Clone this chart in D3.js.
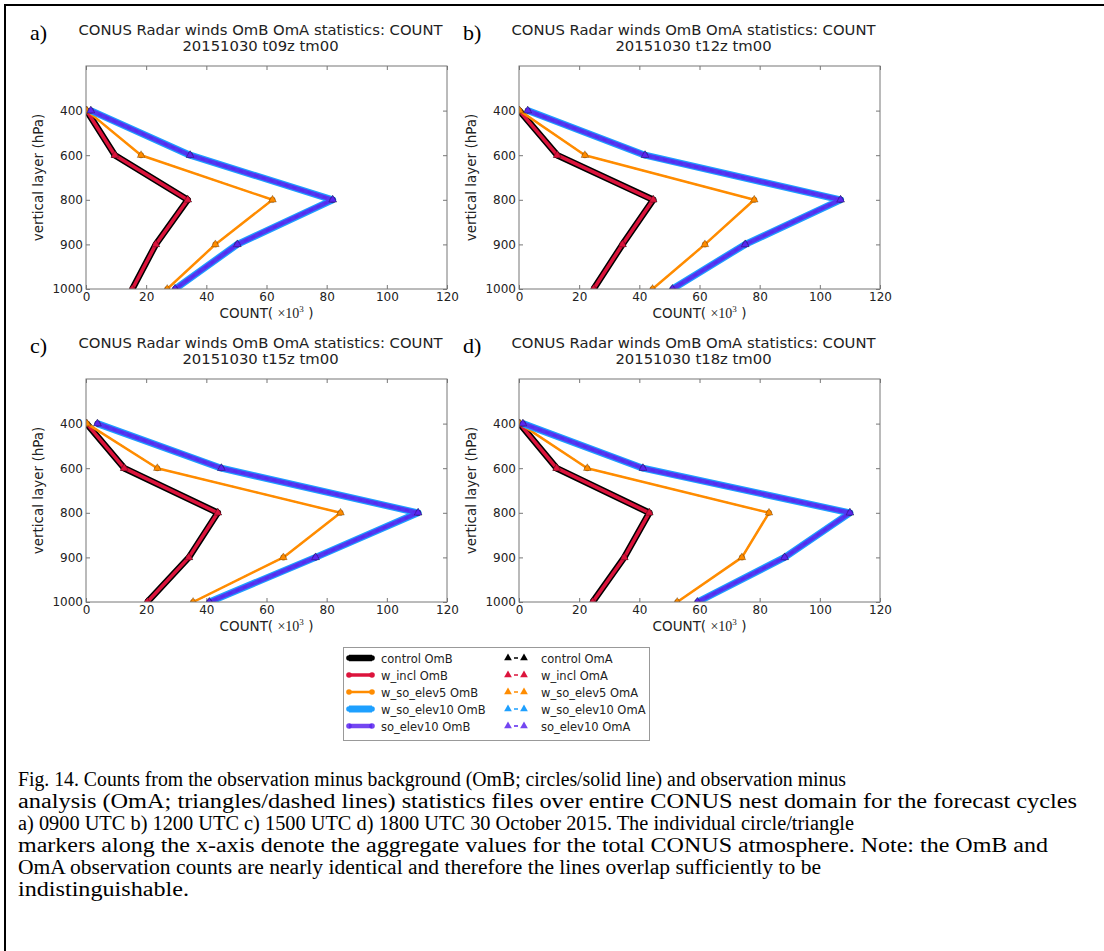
<!DOCTYPE html>
<html lang="en">
<head>
<meta charset="utf-8">
<title>Fig. 14 CONUS Radar winds COUNT</title>
<script src="https://d3js.org/d3.v7.min.js"></script>
<style>
  body { margin: 0; background: #fff; }
  svg { display: block; }
  .axis text { font-family: "DejaVu Sans", sans-serif; font-size: 12px; fill: #222; }
  .axis line { stroke: #777; }
  .axis path { display: none; }
</style>
</head>
<body>
<script>
// vertical layers, plotted at equal spacing (index), top slot left empty
var levels = [400, 600, 800, 900, 1000];
var xTicks = [0, 20, 40, 60, 80, 100, 120];
var panelLabels = ["a)", "b)", "c)", "d)"];
var cycles = ["20151030 t09z tm00", "20151030 t12z tm00", "20151030 t15z tm00", "20151030 t18z tm00"];
var expNames = ["control", "w_incl", "w_so_elev5", "w_so_elev10", "so_elev10"];

// counts (x10^3), one row per panel, values at 400/600/800/900/1000 hPa
var controlOmB   = [[0.2, 9.6, 33.8, 23.2, 15.4], [0.1, 12.7, 44.6, 34.4, 24.8], [0.2, 12.7, 43.8, 34.2, 20.4], [0.2, 12.5, 43.3, 35.0, 24.5]];
var wInclOmB     = [[0.2, 9.6, 33.8, 23.2, 15.4], [0.1, 12.7, 44.6, 34.4, 24.8], [0.2, 12.7, 43.8, 34.2, 20.4], [0.2, 12.5, 43.3, 35.0, 24.5]];
var wElev5OmB    = [[0.3, 18.3, 62.0, 43.0, 27.0], [0.2, 21.9, 78.2, 61.8, 44.4], [0.3, 23.7, 84.6, 65.6, 35.6], [0.3, 22.7, 83.1, 74.1, 52.6]];
var wElev10OmB   = [[1.6, 34.6, 82.0, 50.3, 29.6], [2.9, 41.9, 106.9, 75.2, 51.0], [3.8, 45.0, 110.4, 76.3, 41.0], [1.3, 41.2, 110.0, 88.3, 59.3]];
var soElev10OmB  = [[1.6, 34.6, 82.0, 50.3, 29.6], [2.9, 41.9, 106.9, 75.2, 51.0], [3.8, 45.0, 110.4, 76.3, 41.0], [1.3, 41.2, 110.0, 88.3, 59.3]];
// OmA counts are nearly identical to OmB
var controlOmA   = [[0.2, 9.6, 33.8, 23.2, 15.4], [0.1, 12.7, 44.6, 34.4, 24.8], [0.2, 12.7, 43.8, 34.2, 20.4], [0.2, 12.5, 43.3, 35.0, 24.5]];
var wInclOmA     = [[0.2, 9.6, 33.8, 23.2, 15.4], [0.1, 12.7, 44.6, 34.4, 24.8], [0.2, 12.7, 43.8, 34.2, 20.4], [0.2, 12.5, 43.3, 35.0, 24.5]];
var wElev5OmA    = [[0.3, 18.3, 62.0, 43.0, 27.0], [0.2, 21.9, 78.2, 61.8, 44.4], [0.3, 23.7, 84.6, 65.6, 35.6], [0.3, 22.7, 83.1, 74.1, 52.6]];
var wElev10OmA   = [[1.6, 34.6, 82.0, 50.3, 29.6], [2.9, 41.9, 106.9, 75.2, 51.0], [3.8, 45.0, 110.4, 76.3, 41.0], [1.3, 41.2, 110.0, 88.3, 59.3]];
var soElev10OmA  = [[1.6, 34.6, 82.0, 50.3, 29.6], [2.9, 41.9, 106.9, 75.2, 51.0], [3.8, 45.0, 110.4, 76.3, 41.0], [1.3, 41.2, 110.0, 88.3, 59.3]];

var captionLines = [
  "Fig. 14. Counts from the observation minus background (OmB; circles/solid line) and observation minus",
  "analysis (OmA; triangles/dashed lines) statistics files over entire CONUS nest domain for the forecast cycles",
  "a) 0900 UTC b) 1200 UTC c) 1500 UTC d) 1800 UTC 30 October 2015. The individual circle/triangle",
  "markers along the x-axis denote the aggregate values for the total CONUS atmosphere. Note: the OmB and",
  "OmA observation counts are nearly identical and therefore the lines overlap sufficiently to be",
  "indistinguishable."
];
var captionWidths = [828, 1059, 836, 1030, 803, 171];

// styles for each experiment (drawn in this order)
var styles = [
  {color: "#000000", width: 6.5, opacity: 1},
  {color: "#dc143c", width: 3.5, opacity: 1},
  {color: "#ff8c00", width: 2.5, opacity: 1},
  {color: "#1ea0ff", width: 7,   opacity: 1},
  {color: "#5a26ee", width: 4.5, opacity: 0.85}
];
var omb = [controlOmB, wInclOmB, wElev5OmB, wElev10OmB, soElev10OmB];
var oma = [controlOmA, wInclOmA, wElev5OmA, wElev10OmA, soElev10OmA];

var svgWidth = 1104, svgHeight = 951,
    W = 361, H = 223,
    panelPos = [[86, 66], [519, 66], [86, 379], [519, 379]];

var svg = d3.select("body").append("svg")
    .attr("width", svgWidth)
    .attr("height", svgHeight);

// page frame (top and left rules)
svg.append("line").attr("x1", 4).attr("x2", svgWidth).attr("y1", 5).attr("y2", 5)
    .attr("stroke", "#000").attr("stroke-width", 2);
svg.append("line").attr("x1", 5).attr("x2", 5).attr("y1", 4).attr("y2", svgHeight)
    .attr("stroke", "#000").attr("stroke-width", 2);

var x = d3.scaleLinear().domain([0, 120]).range([0, W]);
var y = d3.scaleLinear().domain([-1, levels.length - 1]).range([0, H]);

var tri = d3.symbol().type(d3.symbolTriangle).size(26);

panelPos.forEach(function(p, pi) {
  var g = svg.append("g").attr("transform", "translate(" + p[0] + "," + p[1] + ")");

  svg.append("clipPath").attr("id", "clip" + pi)
    .append("rect").attr("x", 0).attr("y", 0).attr("width", W).attr("height", H);

  // titles
  g.append("text")
    .attr("x", W / 2 - 6).attr("y", -31)
    .attr("text-anchor", "middle")
    .attr("font-family", "DejaVu Sans, sans-serif").attr("font-size", 14.8).attr("fill", "#222")
    .text("CONUS Radar winds OmB OmA statistics: COUNT");
  g.append("text")
    .attr("x", W / 2 - 6).attr("y", -15)
    .attr("text-anchor", "middle")
    .attr("font-family", "DejaVu Sans, sans-serif").attr("font-size", 14.8).attr("fill", "#222")
    .text(cycles[pi]);
  g.append("text")
    .attr("x", -56).attr("y", -26)
    .attr("font-family", "Liberation Serif, serif").attr("font-size", 22).attr("fill", "#000")
    .text(panelLabels[pi]);

  // axes, ticks point inward on all four sides
  g.append("g").attr("class", "axis")
    .attr("transform", "translate(0," + H + ")")
    .call(d3.axisBottom(x).tickValues(xTicks).tickSizeInner(-4).tickSizeOuter(0).tickPadding(3.5));
  g.append("g").attr("class", "axis")
    .call(d3.axisTop(x).tickValues(xTicks).tickSizeInner(-4).tickSizeOuter(0).tickFormat(""));
  g.append("g").attr("class", "axis")
    .call(d3.axisLeft(y).tickValues(d3.range(levels.length)).tickSizeInner(-4).tickSizeOuter(0).tickPadding(3)
      .tickFormat(function(i) { return levels[i]; }));
  g.append("g").attr("class", "axis")
    .attr("transform", "translate(" + W + ",0)")
    .call(d3.axisRight(y).tickValues(d3.range(levels.length)).tickSizeInner(-4).tickSizeOuter(0).tickFormat(""));

  // axis labels
  g.append("text")
    .attr("transform", "translate(-43," + (H / 2) + ") rotate(-90)")
    .attr("text-anchor", "middle")
    .attr("font-family", "DejaVu Sans, sans-serif").attr("font-size", 13.5).attr("fill", "#222")
    .text("vertical layer (hPa)");
  var xl = g.append("text")
    .attr("x", W / 2).attr("y", H + 29)
    .attr("text-anchor", "middle")
    .attr("font-family", "DejaVu Sans, sans-serif").attr("font-size", 13.5).attr("fill", "#222");
  xl.append("tspan").text("COUNT( ");
  xl.append("tspan").attr("font-family", "Liberation Serif, serif").attr("font-size", 14).text("\u00d710");
  xl.append("tspan").attr("font-family", "Liberation Serif, serif").attr("font-size", 9).attr("dy", -6).text("3");
  xl.append("tspan").attr("dy", 6).text(" )");

  var plot = g.append("g").attr("clip-path", "url(#clip" + pi + ")");
  var line = d3.line()
    .x(function(d) { return x(d); })
    .y(function(d, i) { return y(i); });

  styles.forEach(function(s, k) {
    var b = omb[k][pi], a = oma[k][pi];
    // OmB: solid line with circles
    plot.append("path").datum(b)
      .attr("d", line).attr("fill", "none")
      .attr("stroke", s.color).attr("stroke-width", s.width).attr("stroke-opacity", s.opacity)
      .attr("stroke-linejoin", "round");
    plot.selectAll(null).data(b).enter().append("circle")
      .attr("cx", function(d) { return x(d); })
      .attr("cy", function(d, i) { return y(i); })
      .attr("r", 2.8)
      .attr("fill", s.color).attr("stroke", "#000").attr("stroke-opacity", 0.35).attr("stroke-width", 0.6);
    // OmA: dashed line with triangles
    plot.append("path").datum(a)
      .attr("d", line).attr("fill", "none")
      .attr("stroke", s.color).attr("stroke-width", 1.5).attr("stroke-dasharray", "4,4");
    plot.selectAll(null).data(a).enter().append("path")
      .attr("d", tri)
      .attr("transform", function(d, i) { return "translate(" + x(d) + "," + y(i) + ")"; })
      .attr("fill", s.color).attr("stroke", "#000").attr("stroke-opacity", 0.4).attr("stroke-width", 0.6);
  });

  // plot frame
  g.append("rect").attr("width", W).attr("height", H)
    .attr("fill", "none").attr("stroke", "#777").attr("stroke-width", 1);
});

// legend
var legend = svg.append("g");
legend.append("rect")
  .attr("x", 343.5).attr("y", 647.5).attr("width", 306).attr("height", 93)
  .attr("fill", "#fff").attr("stroke", "#999").attr("stroke-width", 1);

var rowY = function(i) { return 658 + i * 17; };
styles.forEach(function(s, k) {
  var ry = rowY(k);
  // OmB column
  legend.append("line").attr("x1", 349).attr("x2", 372).attr("y1", ry).attr("y2", ry)
    .attr("stroke", s.color).attr("stroke-width", s.width).attr("stroke-opacity", s.opacity);
  [349, 372].forEach(function(cx) {
    legend.append("circle").attr("cx", cx).attr("cy", ry).attr("r", 2.8)
      .attr("fill", s.color).attr("fill-opacity", s.opacity);
  });
  legend.append("text").attr("x", 381).attr("y", ry + 4.5)
    .attr("font-family", "DejaVu Sans, sans-serif").attr("font-size", 11.5).attr("fill", "#222")
    .text(expNames[k] + " OmB");
  // OmA column
  legend.append("line").attr("x1", 508).attr("x2", 524).attr("y1", ry).attr("y2", ry)
    .attr("stroke", s.color).attr("stroke-width", 1.5).attr("stroke-dasharray", "0,6,4,6");
  [508, 524].forEach(function(cx) {
    legend.append("path").attr("d", tri)
      .attr("transform", "translate(" + cx + "," + ry + ")")
      .attr("fill", s.color).attr("fill-opacity", s.opacity);
  });
  legend.append("text").attr("x", 541).attr("y", ry + 4.5)
    .attr("font-family", "DejaVu Sans, sans-serif").attr("font-size", 11.5).attr("fill", "#222")
    .text(expNames[k] + " OmA");
});

// caption
svg.append("g").selectAll("text")
  .data(captionLines)
  .enter().append("text")
  .attr("x", 18)
  .attr("y", function(d, i) { return 786 + i * 21.9; })
  .attr("font-family", "Liberation Serif, Times New Roman, serif")
  .attr("font-size", 20)
  .attr("fill", "#000")
  .attr("textLength", function(d, i) { return captionWidths[i]; })
  .attr("lengthAdjust", "spacingAndGlyphs")
  .text(function(d) { return d; });
</script>
</body>
</html>
